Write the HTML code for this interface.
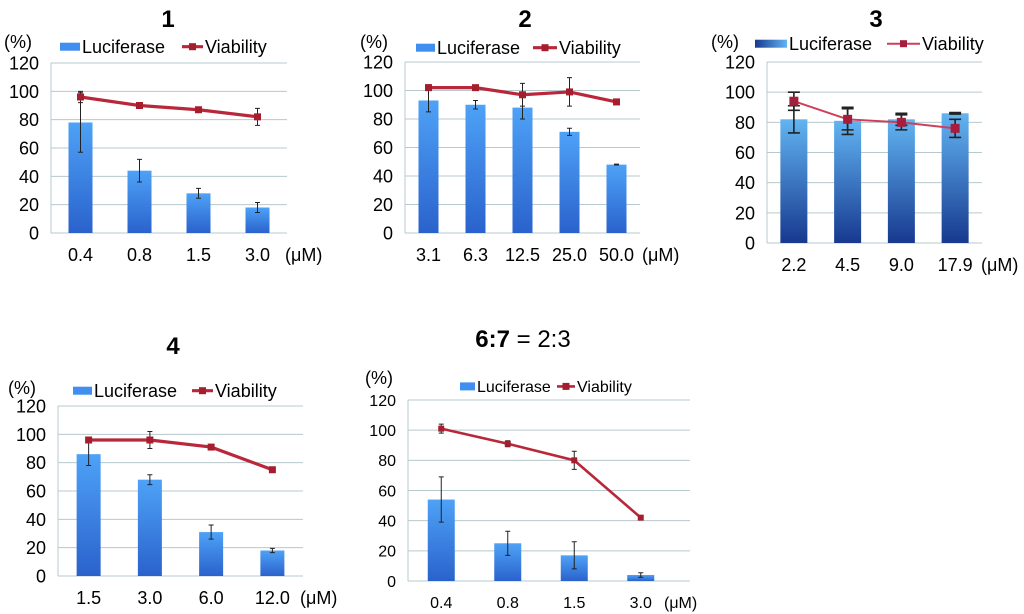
<!DOCTYPE html>
<html><head><meta charset="utf-8"><style>
html,body{margin:0;padding:0;background:#fff;}
svg{display:block;font-family:"Liberation Sans",sans-serif;}
</style></head><body>
<svg id="c" width="1024" height="614" viewBox="0 0 1024 614">
<defs>
<linearGradient id="gb" x1="0" y1="0" x2="0" y2="1"><stop offset="0" stop-color="#4ea2f7"/><stop offset="1" stop-color="#2a62cc"/></linearGradient>
<linearGradient id="gd" x1="0" y1="0" x2="0" y2="1"><stop offset="0" stop-color="#62b4f2"/><stop offset="1" stop-color="#17398f"/></linearGradient>
<linearGradient id="gdl" x1="0" y1="0" x2="1" y2="0"><stop offset="0" stop-color="#17398f"/><stop offset="1" stop-color="#62b4f2"/></linearGradient>
</defs>
</svg>
<script>
// Panel 1
const cats1 = ["0.4","0.8","1.5","3.0"];
const luc1 = [78,44,28,18];
const lucErr1 = [21,8,3.5,3.5];
const via1 = [96,90,87,82];
const viaErr1 = [4,1,1.5,6];
// Panel 2
const cats2 = ["3.1","6.3","12.5","25.0","50.0"];
const luc2 = [93,90,88,71,48];
const lucErr2 = [8,3,8,2.5,0.3];
const via2 = [102,102,97,99,92];
const viaErr2 = [2,1,8,10,2];
// Panel 3
const cats3 = ["2.2","4.5","9.0","17.9"];
const luc3 = [82,81,82,86];
const lucErr3 = [9,9,4,0.5];
const via3 = [94,82,80,76];
const viaErr3 = [6,7,5,6];
// Panel 4
const cats4 = ["1.5","3.0","6.0","12.0"];
const luc4 = [86,68,31,18];
const lucErr4 = [8,3.5,5,1.5];
const via4 = [96,96,91,75];
const viaErr4 = [2,6,1.5,1];
// Panel 5
const cats5 = ["0.4","0.8","1.5","3.0"];
const luc5 = [54,25,17,4];
const lucErr5 = [15,8,9,1.5];
const via5 = [101,91,80,42];
const viaErr5 = [3,2,6,1];
const yTicks = [0,20,40,60,80,100,120];

const NS="http://www.w3.org/2000/svg";
const svg=document.getElementById('c');
function mk(tag,attrs,parent,txt){const e=document.createElementNS(NS,tag);for(const k in attrs)e.setAttribute(k,attrs[k]);if(txt!==undefined)e.textContent=txt;(parent||svg).appendChild(e);return e;}

function panel(o,cats,luc,lucErr,via,viaErr){
  const g=mk('g',{});
  
  
  const y=v=>o.y0-(v/120)*(o.y0-o.y120);
  const cw=(o.right-o.left)/cats.length;
  const x=i=>o.left+cw*(i+0.5);
  const t=mk('text',{x:o.tx,y:o.ty,'text-anchor':'middle','font-size':o.tfs,'font-weight':'bold'},g,o.title);
  
  
  if(o.title2){mk('tspan',{'font-weight':'normal'},t,o.title2);}
  const pu=mk('text',{x:o.px,y:o.py,'font-size':o.pfs||o.fs},g,'(%)');
  
  
  yTicks.forEach(v=>{
    const gl=mk('line',{x1:o.left,x2:o.gright||o.right,y1:y(v),y2:y(v),stroke:'#b7c9cc','stroke-width':1},g);
    
    
    const tl=mk('text',{x:o.left-12,y:y(v)+o.fs*0.36,'text-anchor':'end','font-size':o.fs},g,v);
    
    
  });
  mk('line',{x1:o.left,x2:o.left,y1:o.y120,y2:o.y0,stroke:'#b7c9cc'},g);
  cats.forEach((c,i)=>{
    const b=mk('rect',{x:x(i)-o.bw/2,y:y(luc[i]),width:o.bw,height:y(0)-y(luc[i]),fill:o.dark?'url(#gd)':'url(#gb)'},g);
    
    
    const xl=mk('text',{x:x(i),y:o.y0+o.xlo,'text-anchor':'middle','font-size':o.fs},g,c);
    
    
  });
  function err(xx,v,e,w){
    const ee=mk('path',{d:`M${xx},${y(v+e)}V${y(v-e)}M${xx-w},${y(v+e)}H${xx+w}M${xx-w},${y(v-e)}H${xx+w}`,stroke:'#222','stroke-width':o.dark?1.6:1,fill:'none'},g);
    
    
  }
  cats.forEach((c,i)=>err(x(i),luc[i],lucErr[i],o.dark?6:2.5));
  const ln=mk('polyline',{points:via.map((v,i)=>x(i)+','+y(v)).join(' '),fill:'none',stroke:o.lc,'stroke-width':o.lw},g);
  
  
  cats.forEach((c,i)=>err(x(i),via[i],viaErr[i],o.dark?6:2.5));
  via.forEach((v,i)=>{
    const m=mk('rect',{x:x(i)-o.ms/2,y:y(v)-o.ms/2,width:o.ms,height:o.ms,fill:o.mc},g);
    
    
  });
  const u=mk('text',{x:o.ux,y:o.y0+o.xlo,'font-size':o.fs},g,'(μM)');
  
  
  const lg=mk('g',{},g);
  
  
  mk('rect',{x:o.lbx,y:o.ly-o.lfs*0.35-4,width:o.lbw,height:8,fill:o.dark?'url(#gdl)':'#3f8ef0'},lg);
  mk('text',{x:o.lbx+o.lbw+2,y:o.ly,'font-size':o.lfs},lg,'Luciferase');
  mk('line',{x1:o.llx,x2:o.llx+o.llw,y1:o.ly-o.lfs*0.35,y2:o.ly-o.lfs*0.35,stroke:o.lc,'stroke-width':o.lw},lg);
  mk('rect',{x:o.llx+o.llw/2-3.5,y:o.ly-o.lfs*0.35-3.5,width:7,height:7,fill:o.mc},lg);
  mk('text',{x:o.llx+o.llw+2,y:o.ly,'font-size':o.lfs},lg,'Viability');
}
const base={fs:18,lfs:18,tfs:24,lc:'#b8283a',mc:'#a61e2e',lw:3.2,ms:7,xlo:28};
panel(Object.assign({},base,{id:1,title:'1',tx:168,ty:27,px:4,py:48,left:51,right:287,y120:63,y0:233,bw:24,ux:285,lbx:60,lbw:20,llx:182,llw:21,ly:53}),cats1,luc1,lucErr1,via1,viaErr1);
panel(Object.assign({},base,{id:2,title:'2',tx:525,ty:27,px:360,py:48,left:405,right:640,y120:62,y0:233,bw:20,ux:642,lbx:416,lbw:19,llx:533,llw:24,ly:54}),cats2,luc2,lucErr2,via2,viaErr2);
panel(Object.assign({},base,{id:3,title:'3',tx:876,ty:27,px:711,py:48,left:767,right:982,y120:62,y0:243,bw:27,ux:981,lbx:755,lbw:32,llx:887,llw:33,ly:50,dark:true,lc:'#cf3e5c',mc:'#a61e3e',lw:2,ms:9}),cats3,luc3,lucErr3,via3,viaErr3);
panel(Object.assign({},base,{id:4,title:'4',tx:173,ty:354,px:8,py:394,left:58,right:303,y120:406,y0:576,bw:24,ux:300,lbx:73,lbw:19,llx:192,llw:21,ly:397}),cats4,luc4,lucErr4,via4,viaErr4);
panel(Object.assign({},base,{id:5,title:'6:7',title2:' = 2:3',tx:523,ty:347,tfs:24,fs:16,pfs:18,lfs:16,px:365,py:384,left:408,right:674,gright:690,y120:400,y0:581,bw:27,ux:664,xlo:27,lbx:460,lbw:15,llx:557,llw:18,lw:2.6,ms:6,ly:392}),cats5,luc5,lucErr5,via5,viaErr5);
</script>
</body></html>
